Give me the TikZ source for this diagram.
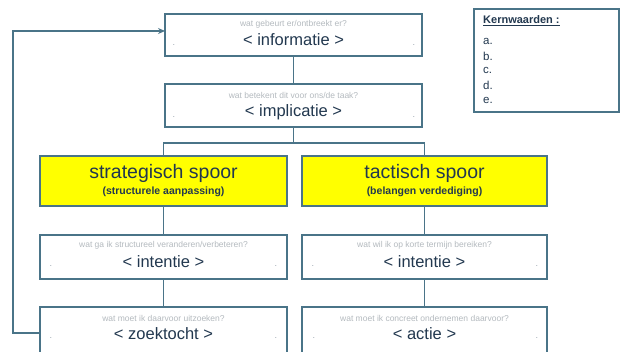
\documentclass[tikz,border=0pt]{standalone}
\usepackage{fontspec}
\setmainfont{Liberation Sans}
\usetikzlibrary{arrows.meta}
\definecolor{edge}{HTML}{4A7488}
\definecolor{ink}{HTML}{22384F}
\definecolor{hint}{HTML}{B4BABF}
\definecolor{spoor}{HTML}{FFFF00}
\tikzset{
  box/.style={draw=edge, line width=1.3pt, fill=white, inner sep=0pt},
  trackbox/.style={draw=edge, line width=1.3pt, fill=spoor, inner sep=0pt},
  link/.style={draw=edge, line width=1.1pt},
  hinttext/.style={text=hint, font=\fontsize{8.5}{9}\selectfont},
  mainlabel/.style={text=ink, font=\fontsize{16.5}{18}\selectfont},
  tracktitle/.style={text=ink, font=\fontsize{19.5}{22}\selectfont},
  tracksub/.style={text=ink, font=\fontsize{10.5}{12}\selectfont\bfseries},
  dot/.style={text=ink, font=\fontsize{6}{6}\selectfont, inner sep=0pt},
}
\begin{document}
\begin{tikzpicture}[x=1pt,y=-1pt]
\useasboundingbox (0,0) rectangle (623,352);
\clip (0,0) rectangle (623,352);

% question boxes
\path[box] (165,14) rectangle (422,56);
\path[box] (165,84) rectangle (422,127);
\path[trackbox] (40,156) rectangle (287,206);
\path[trackbox] (302,156) rectangle (547,206);
\path[box] (40,235) rectangle (287,279);
\path[box] (302,235) rectangle (547,279);
\path[box] (40,307) rectangle (287,362);
\path[box] (302,307) rectangle (547,362);
\path[box] (474,9) rectangle (619,112);

% anchor nodes
\node (info) [minimum width=257pt, minimum height=42pt] at (293.5,35) {};
\node (impl) [minimum width=257pt, minimum height=43pt] at (293.5,105.5) {};
\node (strat) [minimum width=247pt, minimum height=50pt] at (163.5,181) {};
\node (tact) [minimum width=245pt, minimum height=50pt] at (424.5,181) {};
\node (intL) [minimum width=247pt, minimum height=44pt] at (163.5,257) {};
\node (intR) [minimum width=245pt, minimum height=44pt] at (424.5,257) {};
\node (zoek) [minimum width=247pt, minimum height=55pt] at (163.5,334.5) {};
\node (actie) [minimum width=245pt, minimum height=55pt] at (424.5,334.5) {};

% texts
\node[hinttext] (infoq) at (293.5,24) {wat gebeurt er/ontbreekt er?};
\node[mainlabel] (infol) at (293.5,40) {< informatie >};
\node[dot] (d1) at (174,45) {.};
\node[dot] (d2) at (414,45) {.};

\node[hinttext] (implq) at (293.5,95) {wat betekent dit voor ons/de taak?};
\node[mainlabel] (impll) at (293.5,112) {< implicatie >};
\node[dot] (d3) at (174,117) {.};
\node[dot] (d4) at (414,117) {.};

\node[tracktitle] (stratl) at (163.5,173) {strategisch spoor};
\node[tracksub] (strats) at (163.5,192) {(structurele aanpassing)};
\node[tracktitle] (tactl) at (424.5,173) {tactisch spoor};
\node[tracksub] (tacts) at (424.5,192) {(belangen verdediging)};

\node[hinttext] (intLq) at (163.5,245) {wat ga ik structureel veranderen/verbeteren?};
\node[mainlabel] (intLl) at (163.5,262) {< intentie >};
\node[dot] (d5) at (51,266) {.};
\node[dot] (d6) at (276,266) {.};

\node[hinttext] (intRq) at (424.5,245) {wat wil ik op korte termijn bereiken?};
\node[mainlabel] (intRl) at (424.5,262) {< intentie >};
\node[dot] (d7) at (313,266) {.};
\node[dot] (d8) at (537,266) {.};

\node[hinttext] (zoekq) at (163.5,318) {wat moet ik daarvoor uitzoeken?};
\node[mainlabel] (zoekl) at (163.5,334) {< zoektocht >};
\node[dot] (d9) at (51,338) {.};
\node[dot] (d10) at (276,338) {.};

\node[hinttext] (actieq) at (424.5,318) {wat moet ik concreet ondernemen daarvoor?};
\node[mainlabel] (actiel) at (424.5,334) {< actie >};
\node[dot] (d11) at (314,338) {.};
\node[dot] (d12) at (537,338) {.};

% key values list
\node[text=ink, font=\fontsize{11}{12}\selectfont\bfseries, anchor=west, inner sep=0pt] (kern) at (483,21) {\underline{Kernwaarden :}};
\foreach \l/\yy in {a/41,b/56,c/70,d/85,e/100}
  \node[text=ink, font=\fontsize{11.5}{12}\selectfont, anchor=west, inner sep=0pt] (k\l) at (483,\yy) {\l.};

% connectors
\draw[link] (info.south) -- (impl.north);
\coordinate (split) at (293.5,143);
\draw[link] (impl.south) -- (split);
\draw[link] (strat.north) |- (split) -| (tact.north);
\draw[link] (strat.south) -- (intL.north);
\draw[link] (tact.south) -- (intR.north);
\draw[link] (intL.south) -- (zoek.north);
\draw[link] (intR.south) -- (actie.north);

% feedback loop back to the information box
\coordinate (loopA) at (40,333);
\coordinate (loopB) at (13,333);
\coordinate (loopC) at (13,31);
\coordinate (loopD) at (165,31);
\draw[link, -{Stealth[length=7pt,width=6pt]}] (loopA) -- (loopB) -- (loopC) -- (loopD);
\end{tikzpicture}
\end{document}
